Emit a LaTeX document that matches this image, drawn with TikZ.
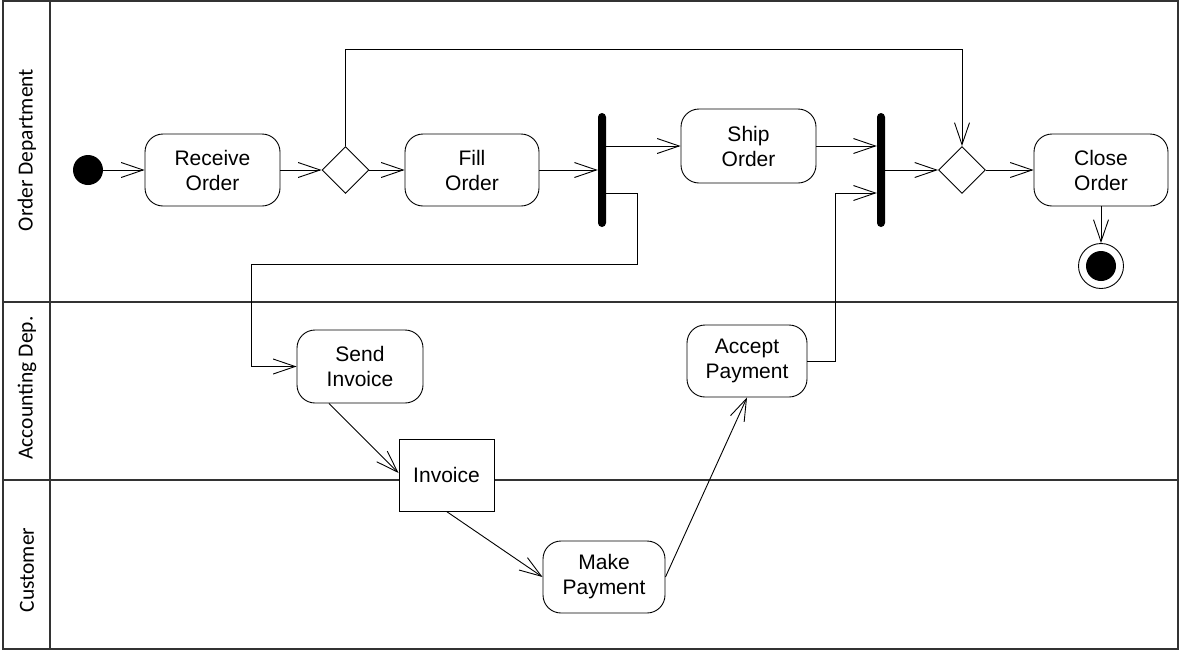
\documentclass[tikz,border=0pt]{standalone}
\usepackage{fontspec}
\setmainfont{Liberation Sans}
\newfontfamily\lanefont{Carlito}
\usetikzlibrary{arrows.meta,shapes.geometric}
\newcommand\actfont{\fontsize{21}{25}\selectfont}
\newcommand\lanelabelfont{\lanefont\fontsize{21.5}{25}\selectfont}

\begin{document}
\begin{tikzpicture}[x=1pt,y=-1pt,
  lane/.style={draw=black!80, line width=1.3pt},
  act/.style={draw, line width=0.9pt, rounded corners=18pt, align=center,
              font=\actfont, inner sep=0pt, fill=white},
  objbox/.style={draw, line width=0.9pt, align=center, font=\actfont,
              inner sep=0pt, fill=white, minimum width=95pt, minimum height=72pt},
  decision/.style={draw, line width=0.9pt, diamond, inner sep=0pt,
              minimum width=47pt, minimum height=47pt, fill=white},
  bar/.style={fill=black, rounded corners=4pt, inner sep=0pt,
              minimum width=8pt, minimum height=114pt},
  startnode/.style={circle, fill=black, inner sep=0pt, minimum size=30pt},
  endnode/.style={circle, draw, line width=0.9pt, inner sep=0pt, minimum size=45pt},
  flow/.style={draw, line width=0.9pt,
              -{Straight Barb[length=22pt,width=15pt]}},
  lanetext/.style={rotate=90, font=\lanelabelfont}]

\useasboundingbox (0,0) rectangle (1180,651);

% swimlane frame
\draw[lane] (3,1) rectangle (1178,649);
\draw[lane] (50,1) -- (50,649);
\draw[lane] (3,302) -- (1178,302);
\draw[lane] (3,480) -- (1178,480);

\node[lanetext] (laneorder) at (27,150) {Order Department};
\node[lanetext] (laneacc)   at (27,388) {Accounting Dep.};
\node[lanetext] (lanecust)  at (27,570) {Customer};

% order department
\node[startnode] (start) at (88,170) {};
\node[act, minimum width=135pt, minimum height=72pt] (receive) at (212.5,170) {Receive\\Order};
\node[decision] (dia1) at (345.5,170) {};
\node[act, minimum width=134pt, minimum height=72pt] (fill) at (472,170) {Fill\\Order};
\node[bar] (fork) at (602,170) {};
\node[act, minimum width=135pt, minimum height=74pt] (ship) at (748.5,146) {Ship\\Order};
\node[bar] (join) at (881,170) {};
\node[decision] (dia2) at (962,170) {};
\node[act, minimum width=134pt, minimum height=72pt] (close) at (1101,170) {Close\\Order};
\node[endnode] (final) at (1101,266) {};
\fill (final.center) circle (15);

% accounting department
\node[act, minimum width=126pt, minimum height=73pt] (sendinv) at (360,366.5) {Send\\Invoice};
\node[act, minimum width=120pt, minimum height=72pt] (accept) at (747,361) {Accept\\Payment};

% customer
\node[objbox] (invoice) at (446.5,475) {Invoice};
\node[act, minimum width=122pt, minimum height=72pt] (make) at (604,577) {Make\\Payment};

% control flow
\path[flow] (start) -- (receive);
\path[flow] (receive) -- (dia1);
\path[flow] (dia1) -- (fill);
\path[flow] (fill.east) -- (fill.east -| fork.west);
\path[flow] (ship.west -| fork.east) -- (ship.west);
\path[flow] ([yshift=-23pt]fork.east) -- ++(31,0) |- (251,264) |- (sendinv.west);
\path[flow] (ship.east) -- (ship.east -| join.west);
\path[flow] (accept.east) -- ++(28,0) |- ([yshift=-23pt]join.west);
\path[flow] (join.east) -- (dia2.west);
\path[flow] (dia1.north) |- (962,49) -- (dia2.north);
\path[flow] (dia2) -- (close);
\path[flow] (close) -- (final);
\path[flow] ([xshift=-31pt]sendinv.south) -- ([yshift=2pt]invoice.west);
\path[flow] (invoice.south) -- (make.west);
\path[flow] (make.east) -- (accept.south);

\end{tikzpicture}
\end{document}
